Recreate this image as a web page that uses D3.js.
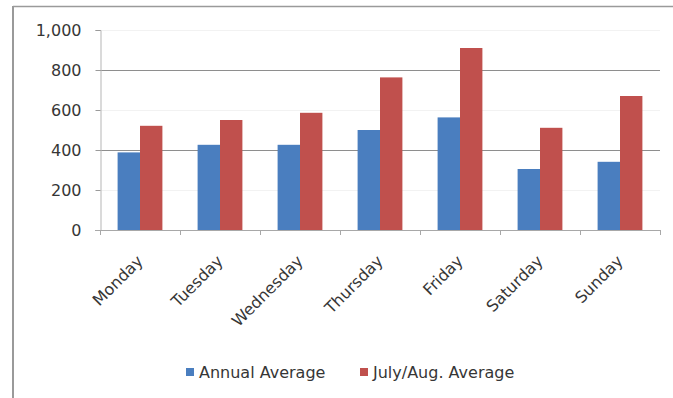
<!DOCTYPE html>
<html>
<head>
<meta charset="utf-8">
<script src="https://cdn.jsdelivr.net/npm/d3@7"></script>
<style>
  html, body { margin: 0; padding: 0; background: #fff; }
  svg { display: block; }
  text { font-family: "DejaVu Sans", sans-serif; fill: #363636; }
</style>
</head>
<body>
<svg id="chart" width="673" height="398"></svg>
<script>
// Visitors per weekday: year-round average vs. July/August average
const days = ["Monday", "Tuesday", "Wednesday", "Thursday", "Friday", "Saturday", "Sunday"];
const annualAverage = [388, 426, 426, 500, 563, 305, 341];
const summerAverage = [521, 550, 586, 763, 910, 511, 670];
const seriesNames = ["Annual Average", "July/Aug. Average"];
const seriesColors = ["#4a7ebf", "#c0504d"];
const yTicks = [0, 200, 400, 600, 800, 1000];

const svg = d3.select("#chart");
const W = 673, H = 398;
const FONT = 16;

// frame lines along the top and left edges
svg.append("line").attr("x1", 13).attr("x2", W).attr("y1", 6.5).attr("y2", 6.5)
  .attr("stroke", "#9a9a9a").attr("stroke-width", 1.5);
svg.append("line").attr("x1", 13).attr("x2", 13).attr("y1", 6).attr("y2", H)
  .attr("stroke", "#9a9a9a").attr("stroke-width", 2);

const plot = { left: 100, right: 660, top: 30, bottom: 230 };

const x = d3.scaleBand().domain(days).range([plot.left, plot.right])
  .paddingInner(0.44).paddingOuter(0.22);
const xs = d3.scaleBand().domain([0, 1]).range([0, x.bandwidth()]);
const y = d3.scaleLinear().domain([0, 1000]).range([plot.bottom, plot.top]);

// horizontal gridlines
svg.append("g").selectAll("line").data(yTicks.filter(t => t > 0)).join("line")
  .attr("x1", plot.left).attr("x2", plot.right)
  .attr("y1", d => Math.round(y(d)) + 0.5).attr("y2", d => Math.round(y(d)) + 0.5)
  .attr("stroke", d => (d === 400 || d === 800) ? "#8e8e8e" : "#f2f2f2")
  .attr("stroke-width", 1);

// bars
const groups = svg.append("g").selectAll("g").data(days).join("g")
  .attr("transform", d => `translate(${x(d)},0)`);
groups.selectAll("rect")
  .data((d, i) => [annualAverage[i], summerAverage[i]])
  .join("rect")
  .attr("x", (v, j) => xs(j))
  .attr("width", xs.bandwidth())
  .attr("y", v => y(v))
  .attr("height", v => y(0) - y(v))
  .attr("fill", (v, j) => seriesColors[j]);

// y axis
const yAxis = svg.append("g").attr("transform", `translate(${plot.left + 0.5},0)`)
  .call(d3.axisLeft(y).tickValues(yTicks).tickSize(5).tickPadding(14)
    .tickFormat(d3.format(",")));
yAxis.select(".domain").attr("stroke", "#b5b5b5");
yAxis.selectAll(".tick line").attr("stroke", "#9a9a9a");
yAxis.selectAll(".tick text").attr("font-size", FONT).attr("fill", "#363636")
  .attr("font-family", "DejaVu Sans, sans-serif");

// x axis baseline with category boundary ticks
const bounds = days.map(d => x(d) - x.step() * x.paddingInner() / 2).concat([plot.right]);
svg.append("line").attr("x1", plot.left - 5).attr("x2", plot.right)
  .attr("y1", plot.bottom + 0.5).attr("y2", plot.bottom + 0.5)
  .attr("stroke", "#a8a8a8");
svg.append("g").selectAll("line").data(bounds).join("line")
  .attr("x1", d => Math.round(d) + 0.5).attr("x2", d => Math.round(d) + 0.5)
  .attr("y1", plot.bottom).attr("y2", plot.bottom + 5)
  .attr("stroke", "#a8a8a8");

// rotated category labels
svg.append("g").selectAll("text").data(days).join("text")
  .attr("transform", d => `translate(${x(d) + x.bandwidth() / 2 + 4},${plot.bottom + 32}) rotate(-45)`)
  .attr("text-anchor", "end")
  .attr("font-size", FONT)
  .text(d => d);

// legend
const legendItems = [
  { name: seriesNames[0], color: seriesColors[0], x: 186 },
  { name: seriesNames[1], color: seriesColors[1], x: 360 }
];
const lg = svg.append("g").selectAll("g").data(legendItems).join("g")
  .attr("transform", d => `translate(${d.x},368)`);
lg.append("rect").attr("width", 8).attr("height", 8).attr("fill", d => d.color);
lg.append("text").attr("x", 13).attr("y", 4).attr("dy", "0.35em")
  .attr("font-size", FONT).text(d => d.name);
</script>
</body>
</html>
